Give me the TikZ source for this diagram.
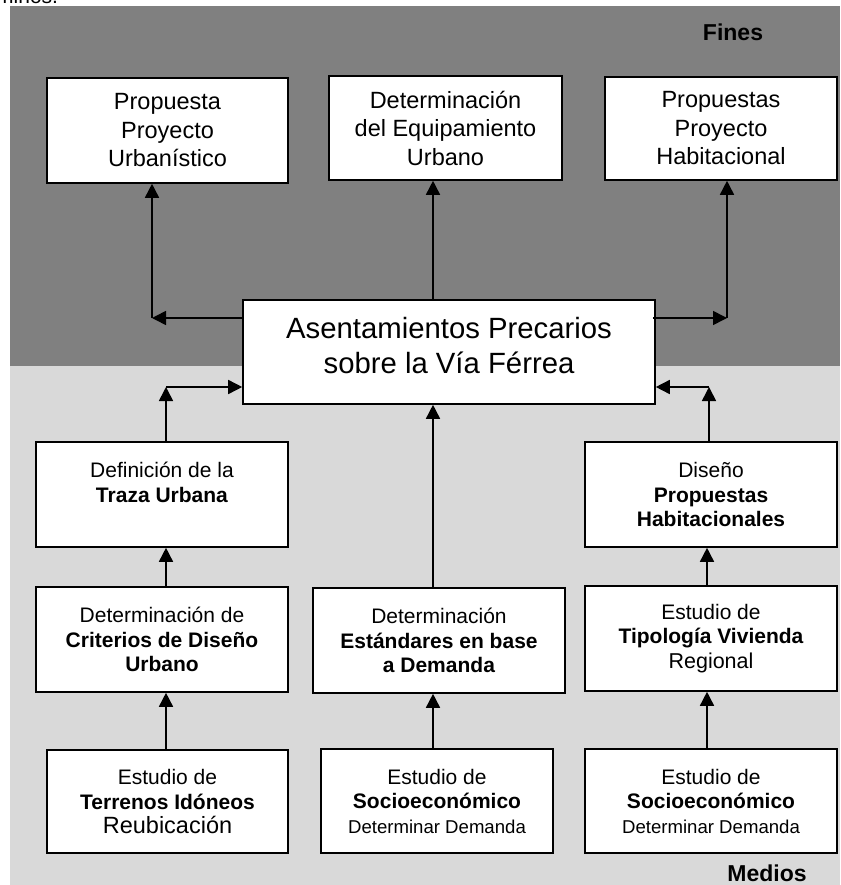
\documentclass[tikz,border=0pt]{standalone}
\usepackage{fontspec}
\setmainfont{Liberation Sans}
\usetikzlibrary{arrows.meta}
\definecolor{darkbg}{HTML}{808080}
\definecolor{lightbg}{HTML}{D9D9D9}
\newcommand{\fnTop}{\fontsize{23.5}{28.5}\selectfont}
\newcommand{\fnBig}{\fontsize{29.3}{35}\selectfont}
\newcommand{\fnMid}{\fontsize{21}{24.5}\selectfont}
\newcommand{\fnSmall}{\fontsize{18.6}{22}\selectfont}
\newcommand{\fnLarge}{\fontsize{23.5}{27}\selectfont}
\newcommand{\fnReg}{\fontsize{21.5}{25}\selectfont}
\begin{document}
\begin{tikzpicture}[x=1pt,y=-1pt,
  box/.style={draw=black, line width=1.6pt, fill=white, align=center, inner sep=2pt},
  topbox/.style={box, font=\fnTop},
  midbox/.style={box, font=\fnMid},
  arr/.style={line width=1.6pt, -{Triangle[length=14pt,width=14pt]}},
  lbl/.style={font=\fontsize{23}{27}\selectfont\bfseries, inner sep=0pt}]
\useasboundingbox (0,0) rectangle (840,885);
\fill[darkbg] (10,6) rectangle (840,366);
\fill[lightbg] (10,366) rectangle (840,885);
\node[anchor=base west, inner sep=0pt, font=\fontsize{21}{25}\selectfont] (prev) at (-4,4) {minos.};
\node[lbl] (fines) at (733,32) {Fines};
\node[lbl] (medios) at (767,873) {Medios};
% top row
\node[topbox, minimum width=241pt, minimum height=105pt] (tl) at (167.5,130.5) {Propuesta\\Proyecto\\Urbanístico};
\node[topbox, minimum width=233pt, minimum height=104pt] (tm) at (445.5,128) {Determinación\\del Equipamiento\\Urbano};
\node[topbox, minimum width=232pt, minimum height=103pt] (tr) at (721,128.5) {Propuestas\\Proyecto\\Habitacional};
% center
\node[box, font=\fnBig, minimum width=412pt, minimum height=104pt] (cen) at (449,352) {Asentamientos Precarios\\sobre la Vía Férrea\rule[-13pt]{0pt}{13pt}};
% middle row
\node[midbox, minimum width=252pt, minimum height=105pt] (traza) at (162,494.5) {Definición de la\\\textbf{Traza Urbana}\\\mbox{}};
\node[midbox, minimum width=252pt, minimum height=105pt] (prophab) at (711,494.5) {Diseño\\\textbf{Propuestas}\\\textbf{Habitacionales}};
\node[midbox, minimum width=252pt, minimum height=105pt] (crit) at (162,639.5) {Determinación de\\\textbf{Criterios de Diseño}\\\textbf{Urbano}};
\node[midbox, minimum width=252pt, minimum height=105pt] (estand) at (439,640.5) {Determinación\\\textbf{Estándares en base}\\\textbf{a Demanda}};
\node[midbox, minimum width=252pt, minimum height=105pt] (tipo) at (711,638.5) {Estudio de\\\textbf{Tipología Vivienda}\\{\fnReg Regional}};
% bottom row
\node[midbox, minimum width=241pt, minimum height=103pt] (terr) at (167.5,801.5) {Estudio de\\\textbf{Terrenos Idóneos}\\{\fnLarge Reubicación}};
\node[midbox, minimum width=232pt, minimum height=104pt] (socm) at (437,801) {Estudio de\\\textbf{Socioeconómico}\\{\fnSmall Determinar Demanda}};
\node[midbox, minimum width=252pt, minimum height=104pt] (socr) at (711,801) {Estudio de\\\textbf{Socioeconómico}\\{\fnSmall Determinar Demanda}};
% junction coordinates
\coordinate (ul) at (152,318);
\coordinate (um) at (433,318);
\coordinate (ur) at (727,318);
\coordinate (ll) at (166,387);
\coordinate (lr) at (709,387);
\coordinate (cr) at (707,700);
% upper connectors
\draw[arr] (cen.west |- ul) -- (ul);
\draw[arr] (ul) -- (tl.south -| ul);
\draw[arr] (cen.north -| um) -- (tm.south -| um);
\draw[arr] ([xshift=-3pt]cen.east |- ur) -- (ur);
\draw[arr] (ur) -- (tr.south -| ur);
% lower connectors
\draw[arr] (traza.north -| ll) -- (ll);
\draw[arr] (ll) -- (cen.west |- ll);
\draw[arr] (prophab.north -| lr) -- (lr);
\draw[arr] (lr) -- (cen.east |- lr);
\draw[arr] (estand.north -| um) -- (cen.south -| um);
\draw[arr] (crit.north -| ll) -- (traza.south -| ll);
\draw[arr] (terr.north -| ll) -- (crit.south -| ll);
\draw[arr] (socm.north -| um) -- (estand.south -| um);
\draw[arr] (socr.north -| cr) -- (tipo.south -| cr);
\draw[arr] (tipo.north -| cr) -- (prophab.south -| cr);
\end{tikzpicture}
\end{document}
